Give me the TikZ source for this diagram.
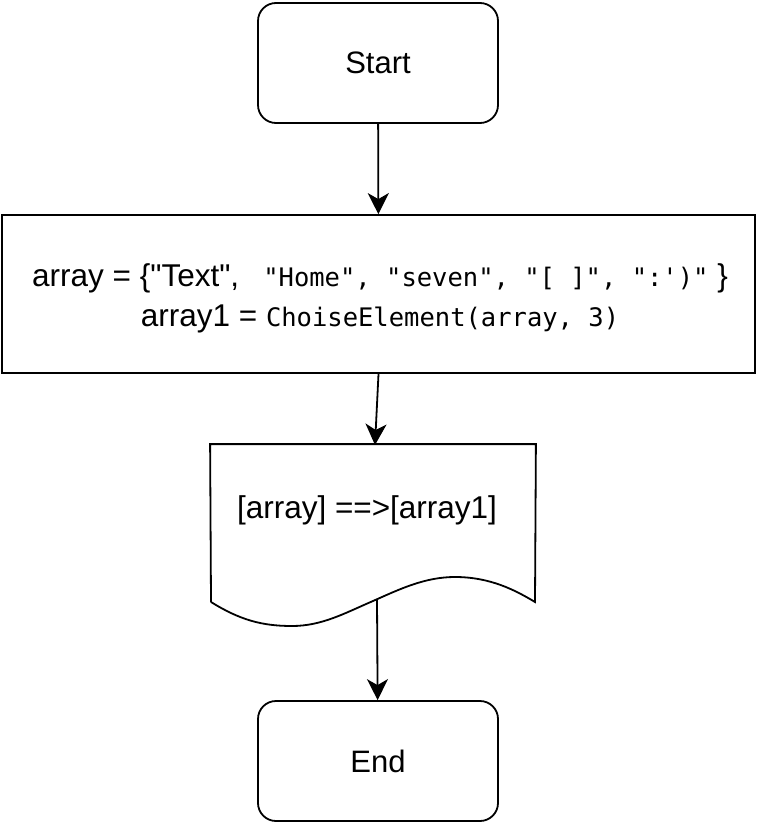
\documentclass[tikz,border=0pt]{standalone}
\usepackage{fontspec}
\defaultfontfeatures[\rmfamily]{}
\setmainfont{Liberation Sans}
\setmonofont{DejaVu Sans Mono}
\usepackage{tikz}
\usetikzlibrary{arrows.meta}

\tikzset{
  terminal/.style={draw,rounded corners=18pt,minimum width=240pt,minimum height=120pt,font=\fontsize{31}{37}\selectfont},
  process/.style={draw,minimum width=753pt,minimum height=158pt},
  proctext/.style={align=center,font=\fontsize{31.5}{40}\selectfont},
  docbox/.style={minimum width=324pt,minimum height=157pt,inner sep=0pt},
  flow/.style={-{Stealth[length=21pt,width=21pt,inset=6pt]}}
}
\newcommand{\code}[1]{{\fontsize{25.5}{30}\selectfont\ttfamily #1}}

\begin{document}
\begin{tikzpicture}[x=1pt,y=-1pt,line width=1.8pt]
\useasboundingbox (0,0) rectangle (760,824);
\node[terminal] (start) at (378,63) {Start};
\node[process] (init) at (378.5,294) {};
\node[proctext] (inittext) at (380,298) {array = \{"Text",\ \code{\ "Home", "seven", "[ ]", ":')"} \}\\
  array1 = \code{ChoiseElement(array, 3)}};
\node[docbox] (out) at (373,523.5) {};
\node[font=\fontsize{31.5}{37}\selectfont] (outtext) at (367,510) {[array] ==>[array1]};
\draw (211,602) -- (out.north west) -- (out.north east) -- (535,602)
  .. controls (515,590) and (490,577) .. (455,577)
  .. controls (425,577) and (400,589) .. (373,601)
  .. controls (345,613) and (322,626) .. (292,626)
  .. controls (262,626) and (240,620) .. (211,602);
\coordinate (outwave) at (377,600);
\node[terminal] (end) at (378,761) {End};
\draw[flow] (start) -- (init);
\draw[flow] (init.south) -- (375,445);
\draw[flow] (outwave) -- (end);
\end{tikzpicture}
\end{document}
